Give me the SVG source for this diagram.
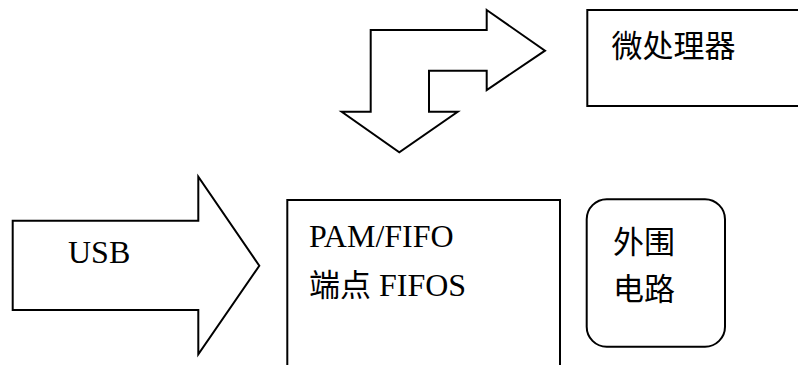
<svg xmlns="http://www.w3.org/2000/svg" width="798" height="365" viewBox="0 0 798 365">
<style>
.shape{fill:#fff;stroke:#000;stroke-width:2;stroke-linejoin:miter}
.t{font-family:"Liberation Serif","Noto Sans CJK SC",serif;font-size:32px;fill:#000}
.c{font-size:31px}
</style>
<rect width="798" height="365" fill="#fff"/>
<g id="connectors">
<path id="bent-arrow" class="shape" d="M486.7,10 L545,50.7 L486.7,90 L486.7,70.7 L429,70.7 L429,111.7 L457.7,111.7 L399.3,152.3 L341.7,111.7 L370.7,111.7 L370.7,30 L486.7,30 Z"/>
<g id="usb">
<path class="shape" d="M12.7,220.7 L198.3,220.7 L198.3,176.7 L259.3,265.7 L198.3,354.3 L198.3,310 L12.7,310 Z"/>
<text class="t" x="68" y="263">USB</text>
</g>
</g>
<g id="microprocessor">
<rect class="shape" x="587.3" y="10" width="220" height="96"/>
<text class="t c" x="611.5" y="57">微处理器</text>
</g>
<g id="fifo">
<rect class="shape" x="287.3" y="200" width="272.7" height="180"/>
<text class="t" x="309" y="247">PAM/FIFO</text>
<text class="t" x="309" y="296"><tspan font-size="31">端点</tspan> FIFOS</text>
</g>
<g id="peripheral">
<rect class="shape" x="586.7" y="199.3" width="138.3" height="147.4" rx="20" ry="20"/>
<text class="t c" x="613" y="253">外围</text>
<text class="t c" x="613" y="300">电路</text>
</g>
</svg>
